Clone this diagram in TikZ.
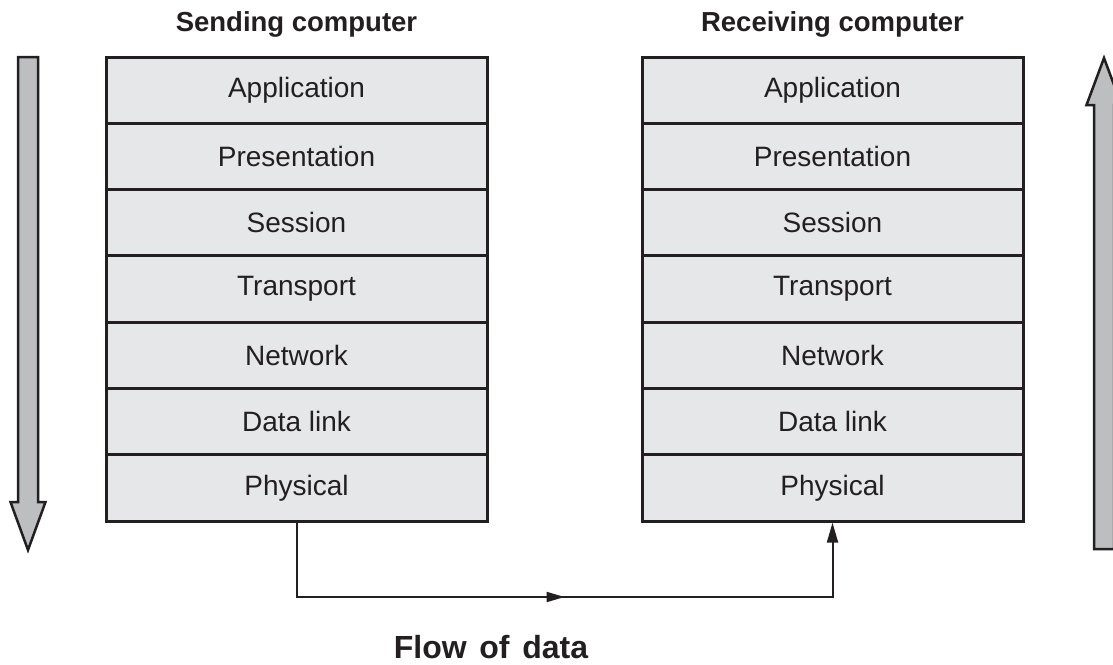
\documentclass[tikz,border=0pt]{standalone}
\usepackage{fontspec}
\setmainfont{Liberation Sans}
\usetikzlibrary{arrows.meta,decorations.markings}
\definecolor{ink}{HTML}{231F20}
\definecolor{layerfill}{HTML}{E6E7E8}
\definecolor{arrowfill}{HTML}{BCBEC0}
\tikzset{
  layer/.style={draw=ink, fill=layerfill, line width=3pt, minimum width=381pt,
    minimum height=66.3pt, inner sep=0pt, font=\fontsize{28}{30}\selectfont, text=ink},
  title/.style={font=\fontsize{27.5}{30}\selectfont\bfseries, text=ink, anchor=base},
  bigarrow/.style={draw=ink, fill=arrowfill, line width=2.5pt, line join=miter},
  flow/.style={draw=ink, line width=2pt,
    -{Triangle[length=20pt,width=11pt]}},
  midtip/.style={postaction={decorate},
    decoration={markings, mark=at position #1 with
      {\arrow{Triangle[length=18pt,width=10pt]}}}}
}
\begin{document}
\begin{tikzpicture}[x=1pt,y=-1pt]
  \useasboundingbox (0,0) rectangle (1113,664);
  \clip (0,0) rectangle (1113,664);

  % protocol stacks
  \foreach \side/\cx in {s/296.5, r/832.5} {
    \foreach \name/\txt [count=\i from 0] in
      {App/Application, Pre/Presentation, Ses/Session, Tra/Transport,
       Net/Network, Dat/Data link, Phy/Physical} {
      \node[layer] (\side\name) at (\cx, {57+33.15+66.3*\i}) {\txt};
    }
  }

  % headings
  \node[title] (sendtitle) at (296.5,31) {Sending computer};
  \node[title] (recvtitle) at (832.5,31) {Receiving computer};
  \node[font=\fontsize{32}{36}\selectfont\bfseries, text=ink, anchor=base]
    (flowtitle) at (491,658) {Flow\hspace{0.12em} of\hspace{0.12em} data};

  % physical link between the two stacks
  \coordinate (low) at (0,597);
  \draw[flow, midtip=0.5] (sPhy.south) -- (sPhy.south |- low) -- (rPhy.south |- low) -- (rPhy.south);

  % downward arrow beside the sender
  \draw[bigarrow] (18,57) -- (38,57) -- (38,502) -- (45.5,502) -- (28,550)
    -- (10.5,502) -- (18,502) -- cycle;

  % upward arrow beside the receiver
  \draw[bigarrow] (1094,549) -- (1114,549) -- (1114,105) -- (1121.5,105) -- (1104,58)
    -- (1086.5,105) -- (1094,105) -- cycle;
\end{tikzpicture}
\end{document}
